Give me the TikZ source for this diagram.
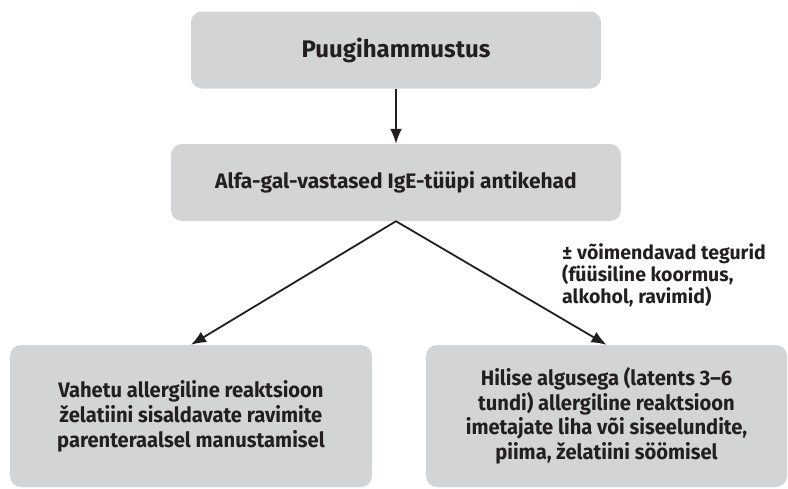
\documentclass[tikz,border=0pt]{standalone}
\usepackage{fontspec}
\setmainfont{Fira Sans}
\newfontfamily\condfont[FakeStretch=0.96,Ligatures=TeX]{Fira Sans}
\usetikzlibrary{arrows.meta}

\definecolor{boxgray}{HTML}{D3D4D6}
\definecolor{textdark}{HTML}{231F20}

\tikzset{
  stepbox/.style={fill=boxgray, rounded corners=11pt, align=center,
    text=textdark, inner sep=0pt},
  link/.style={draw=textdark, line width=1.8pt, -{Latex[length=15pt,width=12pt]}}
}

\begin{document}
\begin{tikzpicture}[x=1pt,y=-1pt]
  \useasboundingbox (0,0) rectangle (788,488);

  % the boxes
  \node[stepbox, minimum width=410pt, minimum height=77pt,
    font=\fontsize{24}{28}\selectfont\bfseries] (bite) at (396,50) {Puugihammustus};
  \node[stepbox, minimum width=450pt, minimum height=77pt,
    font=\fontsize{21}{25}\selectfont\bfseries] (ige) at (396,182.5)
    {Alfa-gal-vastased IgE-tüüpi antikehad};
  \node[stepbox, minimum width=362pt, minimum height=142pt,
    font=\condfont\fontsize{21}{25}\selectfont\bfseries] (fast) at (191,416)
    {Vahetu allergiline reaktsioon\\želatiini sisaldavate ravimite\\parenteraalsel manustamisel};
  \node[stepbox, minimum width=361pt, minimum height=142pt,
    font=\condfont\fontsize{21}{24.5}\selectfont\bfseries] (late) at (606.5,416)
    {Hilise algusega (latents 3--6\\tundi) allergiline reaktsioon\\imetajate liha või siseelundite,\\piima, želatiini söömisel};

  % side note
  \node[anchor=north west, align=left, inner sep=0pt, text=textdark,
    font=\fontsize{19.5}{22}\selectfont\bfseries] (note) at (562,243)
    {± võimendavad tegurid\\(füüsiline koormus,\\alkohol, ravimid)};

  % connectors
  \draw[link] (bite) -- (ige);
  \draw[link] (ige.south) -- (fast.north);
  \draw[link] (ige.south) -- (late.north);

\end{tikzpicture}
\end{document}
